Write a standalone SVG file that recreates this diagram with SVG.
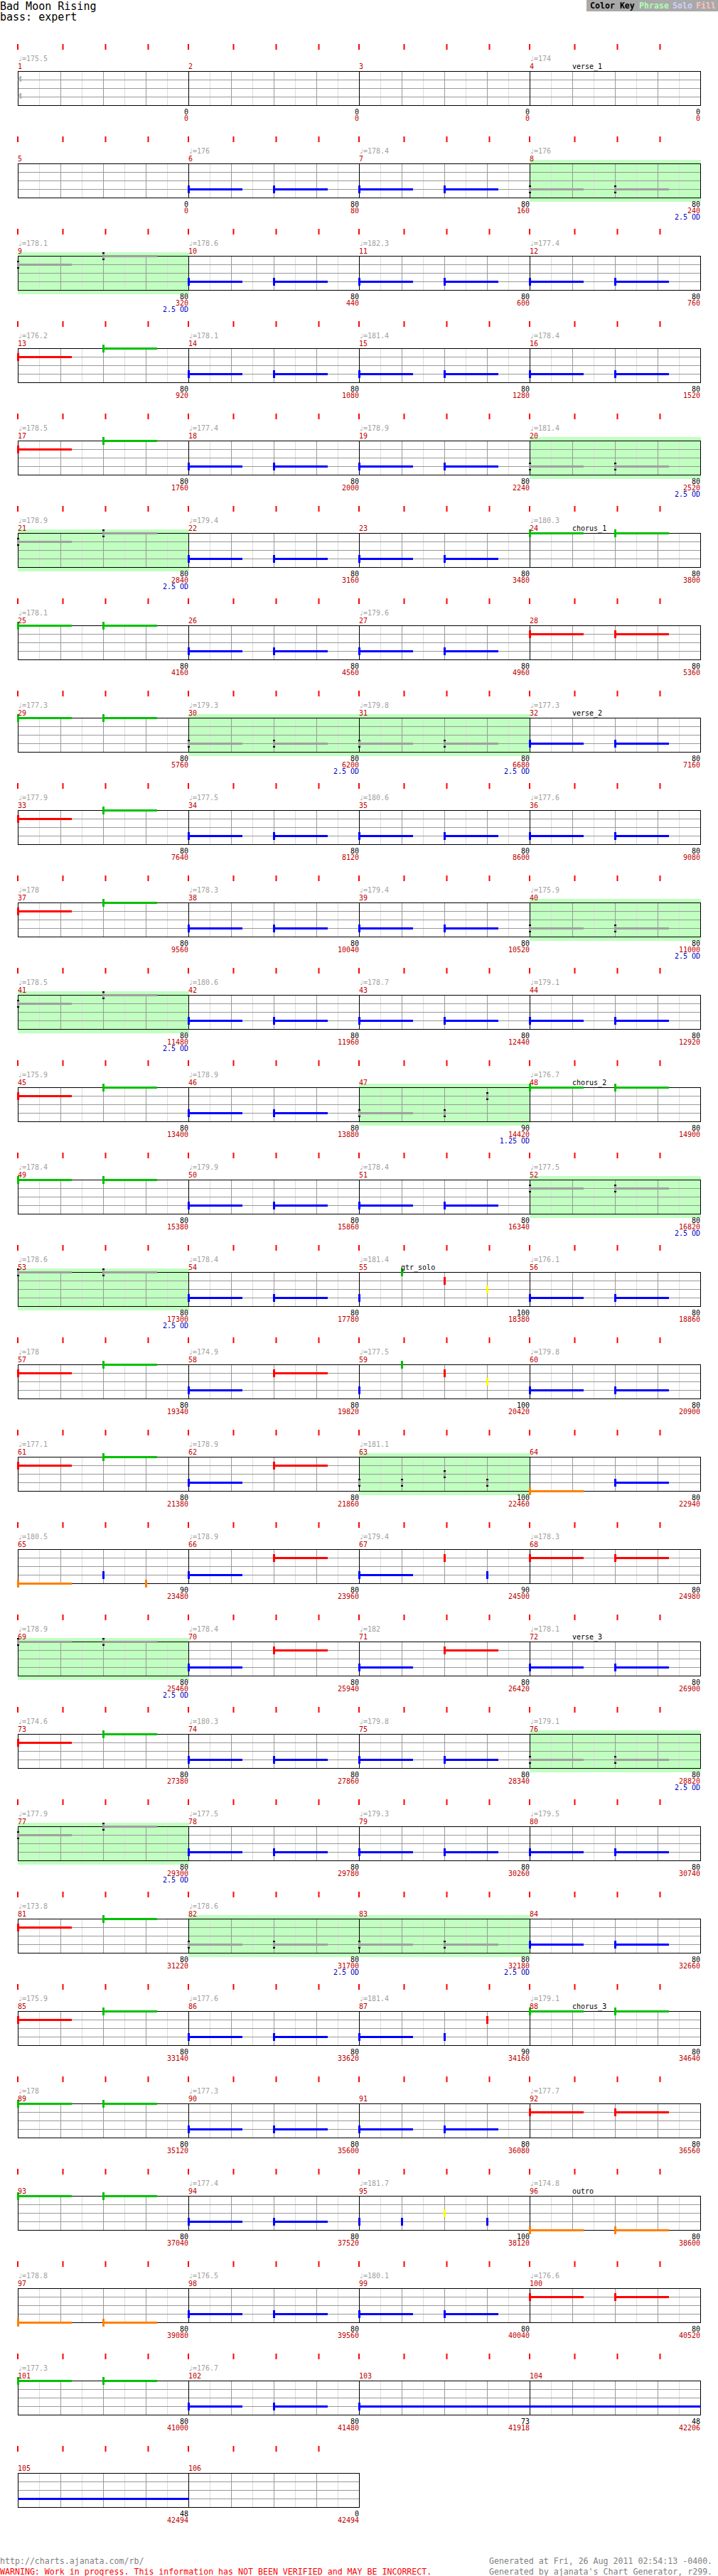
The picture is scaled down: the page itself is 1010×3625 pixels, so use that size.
<svg xmlns="http://www.w3.org/2000/svg" width="1010" height="3625" viewBox="0 0 1010 3625">
<style>
text{font-family:"DejaVu Sans Mono","Liberation Mono",monospace;font-size:10px}
.tp{fill:#a0a0a0}
.mn{fill:#c00000}
.k{fill:#000;text-anchor:end}
.c{fill:#c00000;text-anchor:end}
.o{fill:#0000c0;text-anchor:end}
.sec{fill:#000}
.G{fill:#00c000}.R{fill:#ff0000}.Y{fill:#ffff00}.B{fill:#0000ff}.O{fill:#ff8000}
.ph{fill:#c0ffc0}
.big{font-size:15px}
.ft{font-size:11.6px}
</style>
<defs>
<g id="grid4" fill="none" shape-rendering="crispEdges">
<path stroke="#dddddd" d="M55.5 0V48M115.5 0V48M175.5 0V48M235.5 0V48M295.5 0V48M355.5 0V48M415.5 0V48M475.5 0V48M535.5 0V48M595.5 0V48M655.5 0V48M715.5 0V48M775.5 0V48M835.5 0V48M895.5 0V48M955.5 0V48"/>
<path stroke="#999999" d="M85.5 0V48M145.5 0V48M205.5 0V48M325.5 0V48M385.5 0V48M445.5 0V48M565.5 0V48M625.5 0V48M685.5 0V48M805.5 0V48M865.5 0V48M925.5 0V48M25 12.5H985M25 24.5H985M25 36.5H985"/>
<path stroke="#000000" d="M25.5 0.5H985.5V48.5H25.5ZM265.5 0.5V48.5M505.5 0.5V48.5M745.5 0.5V48.5"/>
</g>
<g id="grid2" fill="none" shape-rendering="crispEdges">
<path stroke="#dddddd" d="M55.5 0V48M115.5 0V48M175.5 0V48M235.5 0V48M295.5 0V48M355.5 0V48M415.5 0V48M475.5 0V48"/>
<path stroke="#999999" d="M85.5 0V48M145.5 0V48M205.5 0V48M325.5 0V48M385.5 0V48M445.5 0V48M25 12.5H505M25 24.5H505M25 36.5H505"/>
<path stroke="#000000" d="M25.5 0.5H505.5V48.5H25.5ZM265.5 0.5V48.5"/>
</g>
<path id="tk4" fill="#ff0000" d="M24-38h2v8h-2zM87.5-38h2v8h-2zM147.5-38h2v8h-2zM207.5-38h2v8h-2zM264-38h2v8h-2zM327.5-38h2v8h-2zM387.5-38h2v8h-2zM447.5-38h2v8h-2zM504-38h2v8h-2zM567.5-38h2v8h-2zM627.5-38h2v8h-2zM687.5-38h2v8h-2zM744-38h2v8h-2zM807.5-38h2v8h-2zM867.5-38h2v8h-2zM927.5-38h2v8h-2z"/>
<path id="tk2" fill="#ff0000" d="M24-38h2v8h-2zM87.5-38h2v8h-2zM147.5-38h2v8h-2zM207.5-38h2v8h-2zM264-38h2v8h-2zM327.5-38h2v8h-2zM387.5-38h2v8h-2zM447.5-38h2v8h-2z"/>
<g id="sn"><rect x="-1" y="-5" width="3" height="11"/><rect x="0" y="-1" width="76" height="3"/></g>
<rect id="hn" x="-1" y="-5" width="3" height="11"/>
<g id="gs"><rect x="-1" y="-5" width="3" height="11" fill="#000"/><rect x="-1" y="-3" width="3" height="7" fill="#a0a0a0"/><rect x="2" y="-1" width="74" height="3" fill="#a0a0a0"/></g>
<g id="gh"><rect x="-1" y="-5" width="3" height="11" fill="#000"/><rect x="-1" y="-3" width="3" height="7" fill="#a0a0a0"/></g>
</defs>
<rect width="1010" height="3625" fill="#ffffff"/>
<g id="header">
<text class="big" x="0" y="14">Bad Moon Rising</text>
<text class="big" x="0" y="29">bass: expert</text>
</g>
<g id="color-key">
<rect x="825" y="0" width="185" height="16" fill="#a9a9a9"/>
<text class="ft" font-weight="bold" y="12"><tspan x="830" fill="#000">Color Key</tspan><tspan x="899" fill="#b0ffb0">Phrase</tspan><tspan x="946" fill="#d0d0ff">Solo</tspan><tspan x="979" fill="#ffc0c0">Fill</tspan></text>
</g>

<g id="row1" transform="translate(0,100)">
<use href="#tk4"/><use href="#grid4"/>
<text x="25" y="15" font-size="16" font-weight="bold" fill="#a0a0a0">4</text>
<text x="25" y="39" font-size="16" font-weight="bold" fill="#a0a0a0">4</text>
<text class="tp" x="25" y="-14">♩=175.5</text><text class="tp" x="745" y="-14">♩=174</text>
<text class="mn" x="25" y="-3">1</text><text class="mn" x="265" y="-3">2</text><text class="mn" x="505" y="-3">3</text><text class="mn" x="745" y="-3">4</text>
<text class="sec" x="805" y="-3">verse_1</text>
<text class="k" x="265" y="61">0</text><text class="k" x="505" y="61">0</text><text class="k" x="745" y="61">0</text><text class="k" x="985" y="61">0</text>
<text class="c" x="265" y="70">0</text><text class="c" x="505" y="70">0</text><text class="c" x="745" y="70">0</text><text class="c" x="985" y="70">0</text>
</g>

<g id="row2" transform="translate(0,230)">
<use href="#tk4"/><rect class="ph" x="745" y="-5" width="241" height="59"/><use href="#grid4"/>
<use href="#sn" class="B" x="265" y="36"/><use href="#sn" class="B" x="385" y="36"/><use href="#sn" class="B" x="505" y="36"/><use href="#sn" class="B" x="625" y="36"/>
<use href="#gs" x="745" y="36"/><use href="#gs" x="865" y="36"/>
<text class="tp" x="265" y="-14">♩=176</text><text class="tp" x="505" y="-14">♩=178.4</text><text class="tp" x="745" y="-14">♩=176</text>
<text class="mn" x="25" y="-3">5</text><text class="mn" x="265" y="-3">6</text><text class="mn" x="505" y="-3">7</text><text class="mn" x="745" y="-3">8</text>
<text class="k" x="265" y="61">0</text><text class="k" x="505" y="61">80</text><text class="k" x="745" y="61">80</text><text class="k" x="985" y="61">80</text>
<text class="c" x="265" y="70">0</text><text class="c" x="505" y="70">80</text><text class="c" x="745" y="70">160</text><text class="c" x="985" y="70">240</text>
<text class="o" x="985" y="79">2.5 OD</text>
</g>

<g id="row3" transform="translate(0,360)">
<use href="#tk4"/><rect class="ph" x="25" y="-5" width="241" height="59"/><use href="#grid4"/>
<use href="#gs" x="25" y="12"/><use href="#gs" x="145" y="0"/>
<use href="#sn" class="B" x="265" y="36"/><use href="#sn" class="B" x="385" y="36"/><use href="#sn" class="B" x="505" y="36"/><use href="#sn" class="B" x="625" y="36"/><use href="#sn" class="B" x="745" y="36"/><use href="#sn" class="B" x="865" y="36"/>
<text class="tp" x="25" y="-14">♩=178.1</text><text class="tp" x="265" y="-14">♩=178.6</text><text class="tp" x="505" y="-14">♩=182.3</text><text class="tp" x="745" y="-14">♩=177.4</text>
<text class="mn" x="25" y="-3">9</text><text class="mn" x="265" y="-3">10</text><text class="mn" x="505" y="-3">11</text><text class="mn" x="745" y="-3">12</text>
<text class="k" x="265" y="61">80</text><text class="k" x="505" y="61">80</text><text class="k" x="745" y="61">80</text><text class="k" x="985" y="61">80</text>
<text class="c" x="265" y="70">320</text><text class="c" x="505" y="70">440</text><text class="c" x="745" y="70">600</text><text class="c" x="985" y="70">760</text>
<text class="o" x="265" y="79">2.5 OD</text>
</g>

<g id="row4" transform="translate(0,490)">
<use href="#tk4"/><use href="#grid4"/>
<use href="#sn" class="R" x="25" y="12"/><use href="#sn" class="G" x="145" y="0"/>
<use href="#sn" class="B" x="265" y="36"/><use href="#sn" class="B" x="385" y="36"/><use href="#sn" class="B" x="505" y="36"/><use href="#sn" class="B" x="625" y="36"/><use href="#sn" class="B" x="745" y="36"/><use href="#sn" class="B" x="865" y="36"/>
<text class="tp" x="25" y="-14">♩=176.2</text><text class="tp" x="265" y="-14">♩=178.1</text><text class="tp" x="505" y="-14">♩=181.4</text><text class="tp" x="745" y="-14">♩=178.4</text>
<text class="mn" x="25" y="-3">13</text><text class="mn" x="265" y="-3">14</text><text class="mn" x="505" y="-3">15</text><text class="mn" x="745" y="-3">16</text>
<text class="k" x="265" y="61">80</text><text class="k" x="505" y="61">80</text><text class="k" x="745" y="61">80</text><text class="k" x="985" y="61">80</text>
<text class="c" x="265" y="70">920</text><text class="c" x="505" y="70">1080</text><text class="c" x="745" y="70">1280</text><text class="c" x="985" y="70">1520</text>
</g>

<g id="row5" transform="translate(0,620)">
<use href="#tk4"/><rect class="ph" x="745" y="-5" width="241" height="59"/><use href="#grid4"/>
<use href="#sn" class="R" x="25" y="12"/><use href="#sn" class="G" x="145" y="0"/>
<use href="#sn" class="B" x="265" y="36"/><use href="#sn" class="B" x="385" y="36"/><use href="#sn" class="B" x="505" y="36"/><use href="#sn" class="B" x="625" y="36"/>
<use href="#gs" x="745" y="36"/><use href="#gs" x="865" y="36"/>
<text class="tp" x="25" y="-14">♩=178.5</text><text class="tp" x="265" y="-14">♩=177.4</text><text class="tp" x="505" y="-14">♩=178.9</text><text class="tp" x="745" y="-14">♩=181.4</text>
<text class="mn" x="25" y="-3">17</text><text class="mn" x="265" y="-3">18</text><text class="mn" x="505" y="-3">19</text><text class="mn" x="745" y="-3">20</text>
<text class="k" x="265" y="61">80</text><text class="k" x="505" y="61">80</text><text class="k" x="745" y="61">80</text><text class="k" x="985" y="61">80</text>
<text class="c" x="265" y="70">1760</text><text class="c" x="505" y="70">2000</text><text class="c" x="745" y="70">2240</text><text class="c" x="985" y="70">2520</text>
<text class="o" x="985" y="79">2.5 OD</text>
</g>

<g id="row6" transform="translate(0,750)">
<use href="#tk4"/><rect class="ph" x="25" y="-5" width="241" height="59"/><use href="#grid4"/>
<use href="#gs" x="25" y="12"/><use href="#gs" x="145" y="0"/>
<use href="#sn" class="B" x="265" y="36"/><use href="#sn" class="B" x="385" y="36"/><use href="#sn" class="B" x="505" y="36"/><use href="#sn" class="B" x="625" y="36"/>
<use href="#sn" class="G" x="745" y="0"/><use href="#sn" class="G" x="865" y="0"/>
<text class="tp" x="25" y="-14">♩=178.9</text><text class="tp" x="265" y="-14">♩=179.4</text><text class="tp" x="745" y="-14">♩=180.3</text>
<text class="mn" x="25" y="-3">21</text><text class="mn" x="265" y="-3">22</text><text class="mn" x="505" y="-3">23</text><text class="mn" x="745" y="-3">24</text>
<text class="sec" x="805" y="-3">chorus_1</text>
<text class="k" x="265" y="61">80</text><text class="k" x="505" y="61">80</text><text class="k" x="745" y="61">80</text><text class="k" x="985" y="61">80</text>
<text class="c" x="265" y="70">2840</text><text class="c" x="505" y="70">3160</text><text class="c" x="745" y="70">3480</text><text class="c" x="985" y="70">3800</text>
<text class="o" x="265" y="79">2.5 OD</text>
</g>

<g id="row7" transform="translate(0,880)">
<use href="#tk4"/><use href="#grid4"/>
<use href="#sn" class="G" x="25" y="0"/><use href="#sn" class="G" x="145" y="0"/>
<use href="#sn" class="B" x="265" y="36"/><use href="#sn" class="B" x="385" y="36"/><use href="#sn" class="B" x="505" y="36"/><use href="#sn" class="B" x="625" y="36"/>
<use href="#sn" class="R" x="745" y="12"/><use href="#sn" class="R" x="865" y="12"/>
<text class="tp" x="25" y="-14">♩=178.1</text><text class="tp" x="505" y="-14">♩=179.6</text>
<text class="mn" x="25" y="-3">25</text><text class="mn" x="265" y="-3">26</text><text class="mn" x="505" y="-3">27</text><text class="mn" x="745" y="-3">28</text>
<text class="k" x="265" y="61">80</text><text class="k" x="505" y="61">80</text><text class="k" x="745" y="61">80</text><text class="k" x="985" y="61">80</text>
<text class="c" x="265" y="70">4160</text><text class="c" x="505" y="70">4560</text><text class="c" x="745" y="70">4960</text><text class="c" x="985" y="70">5360</text>
</g>

<g id="row8" transform="translate(0,1010)">
<use href="#tk4"/><rect class="ph" x="265" y="-5" width="481" height="59"/><use href="#grid4"/>
<use href="#sn" class="G" x="25" y="0"/><use href="#sn" class="G" x="145" y="0"/>
<use href="#gs" x="265" y="36"/><use href="#gs" x="385" y="36"/><use href="#gs" x="505" y="36"/><use href="#gs" x="625" y="36"/>
<use href="#sn" class="B" x="745" y="36"/><use href="#sn" class="B" x="865" y="36"/>
<text class="tp" x="25" y="-14">♩=177.3</text><text class="tp" x="265" y="-14">♩=179.3</text><text class="tp" x="505" y="-14">♩=179.8</text><text class="tp" x="745" y="-14">♩=177.3</text>
<text class="mn" x="25" y="-3">29</text><text class="mn" x="265" y="-3">30</text><text class="mn" x="505" y="-3">31</text><text class="mn" x="745" y="-3">32</text>
<text class="sec" x="805" y="-3">verse_2</text>
<text class="k" x="265" y="61">80</text><text class="k" x="505" y="61">80</text><text class="k" x="745" y="61">80</text><text class="k" x="985" y="61">80</text>
<text class="c" x="265" y="70">5760</text><text class="c" x="505" y="70">6200</text><text class="c" x="745" y="70">6680</text><text class="c" x="985" y="70">7160</text>
<text class="o" x="505" y="79">2.5 OD</text><text class="o" x="745" y="79">2.5 OD</text>
</g>

<g id="row9" transform="translate(0,1140)">
<use href="#tk4"/><use href="#grid4"/>
<use href="#sn" class="R" x="25" y="12"/><use href="#sn" class="G" x="145" y="0"/>
<use href="#sn" class="B" x="265" y="36"/><use href="#sn" class="B" x="385" y="36"/><use href="#sn" class="B" x="505" y="36"/><use href="#sn" class="B" x="625" y="36"/><use href="#sn" class="B" x="745" y="36"/><use href="#sn" class="B" x="865" y="36"/>
<text class="tp" x="25" y="-14">♩=177.9</text><text class="tp" x="265" y="-14">♩=177.5</text><text class="tp" x="505" y="-14">♩=180.6</text><text class="tp" x="745" y="-14">♩=177.6</text>
<text class="mn" x="25" y="-3">33</text><text class="mn" x="265" y="-3">34</text><text class="mn" x="505" y="-3">35</text><text class="mn" x="745" y="-3">36</text>
<text class="k" x="265" y="61">80</text><text class="k" x="505" y="61">80</text><text class="k" x="745" y="61">80</text><text class="k" x="985" y="61">80</text>
<text class="c" x="265" y="70">7640</text><text class="c" x="505" y="70">8120</text><text class="c" x="745" y="70">8600</text><text class="c" x="985" y="70">9080</text>
</g>

<g id="row10" transform="translate(0,1270)">
<use href="#tk4"/><rect class="ph" x="745" y="-5" width="241" height="59"/><use href="#grid4"/>
<use href="#sn" class="R" x="25" y="12"/><use href="#sn" class="G" x="145" y="0"/>
<use href="#sn" class="B" x="265" y="36"/><use href="#sn" class="B" x="385" y="36"/><use href="#sn" class="B" x="505" y="36"/><use href="#sn" class="B" x="625" y="36"/>
<use href="#gs" x="745" y="36"/><use href="#gs" x="865" y="36"/>
<text class="tp" x="25" y="-14">♩=178</text><text class="tp" x="265" y="-14">♩=178.3</text><text class="tp" x="505" y="-14">♩=179.4</text><text class="tp" x="745" y="-14">♩=175.9</text>
<text class="mn" x="25" y="-3">37</text><text class="mn" x="265" y="-3">38</text><text class="mn" x="505" y="-3">39</text><text class="mn" x="745" y="-3">40</text>
<text class="k" x="265" y="61">80</text><text class="k" x="505" y="61">80</text><text class="k" x="745" y="61">80</text><text class="k" x="985" y="61">80</text>
<text class="c" x="265" y="70">9560</text><text class="c" x="505" y="70">10040</text><text class="c" x="745" y="70">10520</text><text class="c" x="985" y="70">11000</text>
<text class="o" x="985" y="79">2.5 OD</text>
</g>

<g id="row11" transform="translate(0,1400)">
<use href="#tk4"/><rect class="ph" x="25" y="-5" width="241" height="59"/><use href="#grid4"/>
<use href="#gs" x="25" y="12"/><use href="#gs" x="145" y="0"/>
<use href="#sn" class="B" x="265" y="36"/><use href="#sn" class="B" x="385" y="36"/><use href="#sn" class="B" x="505" y="36"/><use href="#sn" class="B" x="625" y="36"/><use href="#sn" class="B" x="745" y="36"/><use href="#sn" class="B" x="865" y="36"/>
<text class="tp" x="25" y="-14">♩=178.5</text><text class="tp" x="265" y="-14">♩=180.6</text><text class="tp" x="505" y="-14">♩=178.7</text><text class="tp" x="745" y="-14">♩=179.1</text>
<text class="mn" x="25" y="-3">41</text><text class="mn" x="265" y="-3">42</text><text class="mn" x="505" y="-3">43</text><text class="mn" x="745" y="-3">44</text>
<text class="k" x="265" y="61">80</text><text class="k" x="505" y="61">80</text><text class="k" x="745" y="61">80</text><text class="k" x="985" y="61">80</text>
<text class="c" x="265" y="70">11480</text><text class="c" x="505" y="70">11960</text><text class="c" x="745" y="70">12440</text><text class="c" x="985" y="70">12920</text>
<text class="o" x="265" y="79">2.5 OD</text>
</g>

<g id="row12" transform="translate(0,1530)">
<use href="#tk4"/><rect class="ph" x="505" y="-5" width="241" height="59"/><use href="#grid4"/>
<use href="#sn" class="R" x="25" y="12"/><use href="#sn" class="G" x="145" y="0"/>
<use href="#sn" class="B" x="265" y="36"/><use href="#sn" class="B" x="385" y="36"/>
<use href="#gs" x="505" y="36"/><use href="#gh" x="625" y="36"/><use href="#gh" x="685" y="12"/>
<use href="#sn" class="G" x="745" y="0"/><use href="#sn" class="G" x="865" y="0"/>
<text class="tp" x="25" y="-14">♩=175.9</text><text class="tp" x="265" y="-14">♩=178.9</text><text class="tp" x="745" y="-14">♩=176.7</text>
<text class="mn" x="25" y="-3">45</text><text class="mn" x="265" y="-3">46</text><text class="mn" x="505" y="-3">47</text><text class="mn" x="745" y="-3">48</text>
<text class="sec" x="805" y="-3">chorus_2</text>
<text class="k" x="265" y="61">80</text><text class="k" x="505" y="61">80</text><text class="k" x="745" y="61">90</text><text class="k" x="985" y="61">80</text>
<text class="c" x="265" y="70">13400</text><text class="c" x="505" y="70">13880</text><text class="c" x="745" y="70">14420</text><text class="c" x="985" y="70">14900</text>
<text class="o" x="745" y="79">1.25 OD</text>
</g>

<g id="row13" transform="translate(0,1660)">
<use href="#tk4"/><rect class="ph" x="745" y="-5" width="241" height="59"/><use href="#grid4"/>
<use href="#sn" class="G" x="25" y="0"/><use href="#sn" class="G" x="145" y="0"/>
<use href="#sn" class="B" x="265" y="36"/><use href="#sn" class="B" x="385" y="36"/><use href="#sn" class="B" x="505" y="36"/><use href="#sn" class="B" x="625" y="36"/>
<use href="#gs" x="745" y="12"/><use href="#gs" x="865" y="12"/>
<text class="tp" x="25" y="-14">♩=178.4</text><text class="tp" x="265" y="-14">♩=179.9</text><text class="tp" x="505" y="-14">♩=178.4</text><text class="tp" x="745" y="-14">♩=177.5</text>
<text class="mn" x="25" y="-3">49</text><text class="mn" x="265" y="-3">50</text><text class="mn" x="505" y="-3">51</text><text class="mn" x="745" y="-3">52</text>
<text class="k" x="265" y="61">80</text><text class="k" x="505" y="61">80</text><text class="k" x="745" y="61">80</text><text class="k" x="985" y="61">80</text>
<text class="c" x="265" y="70">15380</text><text class="c" x="505" y="70">15860</text><text class="c" x="745" y="70">16340</text><text class="c" x="985" y="70">16820</text>
<text class="o" x="985" y="79">2.5 OD</text>
</g>

<g id="row14" transform="translate(0,1790)">
<use href="#tk4"/><rect class="ph" x="25" y="-5" width="241" height="59"/><use href="#grid4"/>
<use href="#gs" x="25" y="0"/><use href="#gs" x="145" y="0"/>
<use href="#sn" class="B" x="265" y="36"/><use href="#sn" class="B" x="385" y="36"/>
<use href="#hn" class="B" x="505" y="36"/><use href="#hn" class="G" x="565" y="0"/><use href="#hn" class="R" x="625" y="12"/><use href="#hn" class="Y" x="685" y="24"/>
<use href="#sn" class="B" x="745" y="36"/><use href="#sn" class="B" x="865" y="36"/>
<text class="tp" x="25" y="-14">♩=178.6</text><text class="tp" x="265" y="-14">♩=178.4</text><text class="tp" x="505" y="-14">♩=181.4</text><text class="tp" x="745" y="-14">♩=176.1</text>
<text class="mn" x="25" y="-3">53</text><text class="mn" x="265" y="-3">54</text><text class="mn" x="505" y="-3">55</text><text class="mn" x="745" y="-3">56</text>
<text class="sec" x="564" y="-3">gtr_solo</text>
<text class="k" x="265" y="61">80</text><text class="k" x="505" y="61">80</text><text class="k" x="745" y="61">100</text><text class="k" x="985" y="61">80</text>
<text class="c" x="265" y="70">17300</text><text class="c" x="505" y="70">17780</text><text class="c" x="745" y="70">18380</text><text class="c" x="985" y="70">18860</text>
<text class="o" x="265" y="79">2.5 OD</text>
</g>

<g id="row15" transform="translate(0,1920)">
<use href="#tk4"/><use href="#grid4"/>
<use href="#sn" class="R" x="25" y="12"/><use href="#sn" class="G" x="145" y="0"/>
<use href="#sn" class="B" x="265" y="36"/><use href="#sn" class="R" x="385" y="12"/>
<use href="#hn" class="B" x="505" y="36"/><use href="#hn" class="G" x="565" y="0"/><use href="#hn" class="R" x="625" y="12"/><use href="#hn" class="Y" x="685" y="24"/>
<use href="#sn" class="B" x="745" y="36"/><use href="#sn" class="B" x="865" y="36"/>
<text class="tp" x="25" y="-14">♩=178</text><text class="tp" x="265" y="-14">♩=174.9</text><text class="tp" x="505" y="-14">♩=177.5</text><text class="tp" x="745" y="-14">♩=179.8</text>
<text class="mn" x="25" y="-3">57</text><text class="mn" x="265" y="-3">58</text><text class="mn" x="505" y="-3">59</text><text class="mn" x="745" y="-3">60</text>
<text class="k" x="265" y="61">80</text><text class="k" x="505" y="61">80</text><text class="k" x="745" y="61">100</text><text class="k" x="985" y="61">80</text>
<text class="c" x="265" y="70">19340</text><text class="c" x="505" y="70">19820</text><text class="c" x="745" y="70">20420</text><text class="c" x="985" y="70">20900</text>
</g>

<g id="row16" transform="translate(0,2050)">
<use href="#tk4"/><rect class="ph" x="505" y="-5" width="241" height="59"/><use href="#grid4"/>
<use href="#sn" class="R" x="25" y="12"/><use href="#sn" class="G" x="145" y="0"/>
<use href="#sn" class="B" x="265" y="36"/><use href="#sn" class="R" x="385" y="12"/>
<use href="#gh" x="505" y="36"/><use href="#gh" x="565" y="36"/><use href="#gh" x="625" y="24"/><use href="#gh" x="685" y="36"/>
<use href="#sn" class="O" x="745" y="48"/><use href="#sn" class="B" x="865" y="36"/>
<text class="tp" x="25" y="-14">♩=177.1</text><text class="tp" x="265" y="-14">♩=178.9</text><text class="tp" x="505" y="-14">♩=181.1</text>
<text class="mn" x="25" y="-3">61</text><text class="mn" x="265" y="-3">62</text><text class="mn" x="505" y="-3">63</text><text class="mn" x="745" y="-3">64</text>
<text class="k" x="265" y="61">80</text><text class="k" x="505" y="61">80</text><text class="k" x="745" y="61">100</text><text class="k" x="985" y="61">80</text>
<text class="c" x="265" y="70">21380</text><text class="c" x="505" y="70">21860</text><text class="c" x="745" y="70">22460</text><text class="c" x="985" y="70">22940</text>
</g>

<g id="row17" transform="translate(0,2180)">
<use href="#tk4"/><use href="#grid4"/>
<use href="#sn" class="O" x="25" y="48"/><use href="#hn" class="B" x="145" y="36"/><use href="#hn" class="O" x="205" y="48"/>
<use href="#sn" class="B" x="265" y="36"/><use href="#sn" class="R" x="385" y="12"/>
<use href="#sn" class="B" x="505" y="36"/><use href="#hn" class="R" x="625" y="12"/><use href="#hn" class="B" x="685" y="36"/>
<use href="#sn" class="R" x="745" y="12"/><use href="#sn" class="R" x="865" y="12"/>
<text class="tp" x="25" y="-14">♩=180.5</text><text class="tp" x="265" y="-14">♩=178.9</text><text class="tp" x="505" y="-14">♩=179.4</text><text class="tp" x="745" y="-14">♩=178.3</text>
<text class="mn" x="25" y="-3">65</text><text class="mn" x="265" y="-3">66</text><text class="mn" x="505" y="-3">67</text><text class="mn" x="745" y="-3">68</text>
<text class="k" x="265" y="61">90</text><text class="k" x="505" y="61">80</text><text class="k" x="745" y="61">90</text><text class="k" x="985" y="61">80</text>
<text class="c" x="265" y="70">23480</text><text class="c" x="505" y="70">23960</text><text class="c" x="745" y="70">24500</text><text class="c" x="985" y="70">24980</text>
</g>

<g id="row18" transform="translate(0,2310)">
<use href="#tk4"/><rect class="ph" x="25" y="-5" width="241" height="59"/><use href="#grid4"/>
<use href="#gs" x="25" y="0"/><use href="#gs" x="145" y="0"/>
<use href="#sn" class="B" x="265" y="36"/><use href="#sn" class="R" x="385" y="12"/>
<use href="#sn" class="B" x="505" y="36"/><use href="#sn" class="R" x="625" y="12"/>
<use href="#sn" class="B" x="745" y="36"/><use href="#sn" class="B" x="865" y="36"/>
<text class="tp" x="25" y="-14">♩=178.9</text><text class="tp" x="265" y="-14">♩=178.4</text><text class="tp" x="505" y="-14">♩=182</text><text class="tp" x="745" y="-14">♩=178.1</text>
<text class="mn" x="25" y="-3">69</text><text class="mn" x="265" y="-3">70</text><text class="mn" x="505" y="-3">71</text><text class="mn" x="745" y="-3">72</text>
<text class="sec" x="805" y="-3">verse_3</text>
<text class="k" x="265" y="61">80</text><text class="k" x="505" y="61">80</text><text class="k" x="745" y="61">80</text><text class="k" x="985" y="61">80</text>
<text class="c" x="265" y="70">25460</text><text class="c" x="505" y="70">25940</text><text class="c" x="745" y="70">26420</text><text class="c" x="985" y="70">26900</text>
<text class="o" x="265" y="79">2.5 OD</text>
</g>

<g id="row19" transform="translate(0,2440)">
<use href="#tk4"/><rect class="ph" x="745" y="-5" width="241" height="59"/><use href="#grid4"/>
<use href="#sn" class="R" x="25" y="12"/><use href="#sn" class="G" x="145" y="0"/>
<use href="#sn" class="B" x="265" y="36"/><use href="#sn" class="B" x="385" y="36"/><use href="#sn" class="B" x="505" y="36"/><use href="#sn" class="B" x="625" y="36"/>
<use href="#gs" x="745" y="36"/><use href="#gs" x="865" y="36"/>
<text class="tp" x="25" y="-14">♩=174.6</text><text class="tp" x="265" y="-14">♩=180.3</text><text class="tp" x="505" y="-14">♩=179.8</text><text class="tp" x="745" y="-14">♩=179.1</text>
<text class="mn" x="25" y="-3">73</text><text class="mn" x="265" y="-3">74</text><text class="mn" x="505" y="-3">75</text><text class="mn" x="745" y="-3">76</text>
<text class="k" x="265" y="61">80</text><text class="k" x="505" y="61">80</text><text class="k" x="745" y="61">80</text><text class="k" x="985" y="61">80</text>
<text class="c" x="265" y="70">27380</text><text class="c" x="505" y="70">27860</text><text class="c" x="745" y="70">28340</text><text class="c" x="985" y="70">28820</text>
<text class="o" x="985" y="79">2.5 OD</text>
</g>

<g id="row20" transform="translate(0,2570)">
<use href="#tk4"/><rect class="ph" x="25" y="-5" width="241" height="59"/><use href="#grid4"/>
<use href="#gs" x="25" y="12"/><use href="#gs" x="145" y="0"/>
<use href="#sn" class="B" x="265" y="36"/><use href="#sn" class="B" x="385" y="36"/><use href="#sn" class="B" x="505" y="36"/><use href="#sn" class="B" x="625" y="36"/><use href="#sn" class="B" x="745" y="36"/><use href="#sn" class="B" x="865" y="36"/>
<text class="tp" x="25" y="-14">♩=177.9</text><text class="tp" x="265" y="-14">♩=177.5</text><text class="tp" x="505" y="-14">♩=179.3</text><text class="tp" x="745" y="-14">♩=179.5</text>
<text class="mn" x="25" y="-3">77</text><text class="mn" x="265" y="-3">78</text><text class="mn" x="505" y="-3">79</text><text class="mn" x="745" y="-3">80</text>
<text class="k" x="265" y="61">80</text><text class="k" x="505" y="61">80</text><text class="k" x="745" y="61">80</text><text class="k" x="985" y="61">80</text>
<text class="c" x="265" y="70">29300</text><text class="c" x="505" y="70">29780</text><text class="c" x="745" y="70">30260</text><text class="c" x="985" y="70">30740</text>
<text class="o" x="265" y="79">2.5 OD</text>
</g>

<g id="row21" transform="translate(0,2700)">
<use href="#tk4"/><rect class="ph" x="265" y="-5" width="481" height="59"/><use href="#grid4"/>
<use href="#sn" class="R" x="25" y="12"/><use href="#sn" class="G" x="145" y="0"/>
<use href="#gs" x="265" y="36"/><use href="#gs" x="385" y="36"/><use href="#gs" x="505" y="36"/><use href="#gs" x="625" y="36"/>
<use href="#sn" class="B" x="745" y="36"/><use href="#sn" class="B" x="865" y="36"/>
<text class="tp" x="25" y="-14">♩=173.8</text><text class="tp" x="265" y="-14">♩=178.6</text>
<text class="mn" x="25" y="-3">81</text><text class="mn" x="265" y="-3">82</text><text class="mn" x="505" y="-3">83</text><text class="mn" x="745" y="-3">84</text>
<text class="k" x="265" y="61">80</text><text class="k" x="505" y="61">80</text><text class="k" x="745" y="61">80</text><text class="k" x="985" y="61">80</text>
<text class="c" x="265" y="70">31220</text><text class="c" x="505" y="70">31700</text><text class="c" x="745" y="70">32180</text><text class="c" x="985" y="70">32660</text>
<text class="o" x="505" y="79">2.5 OD</text><text class="o" x="745" y="79">2.5 OD</text>
</g>

<g id="row22" transform="translate(0,2830)">
<use href="#tk4"/><use href="#grid4"/>
<use href="#sn" class="R" x="25" y="12"/><use href="#sn" class="G" x="145" y="0"/>
<use href="#sn" class="B" x="265" y="36"/><use href="#sn" class="B" x="385" y="36"/>
<use href="#sn" class="B" x="505" y="36"/><use href="#hn" class="B" x="625" y="36"/><use href="#hn" class="R" x="685" y="12"/>
<use href="#sn" class="G" x="745" y="0"/><use href="#sn" class="G" x="865" y="0"/>
<text class="tp" x="25" y="-14">♩=175.9</text><text class="tp" x="265" y="-14">♩=177.6</text><text class="tp" x="505" y="-14">♩=181.4</text><text class="tp" x="745" y="-14">♩=179.1</text>
<text class="mn" x="25" y="-3">85</text><text class="mn" x="265" y="-3">86</text><text class="mn" x="505" y="-3">87</text><text class="mn" x="745" y="-3">88</text>
<text class="sec" x="805" y="-3">chorus_3</text>
<text class="k" x="265" y="61">80</text><text class="k" x="505" y="61">80</text><text class="k" x="745" y="61">90</text><text class="k" x="985" y="61">80</text>
<text class="c" x="265" y="70">33140</text><text class="c" x="505" y="70">33620</text><text class="c" x="745" y="70">34160</text><text class="c" x="985" y="70">34640</text>
</g>

<g id="row23" transform="translate(0,2960)">
<use href="#tk4"/><use href="#grid4"/>
<use href="#sn" class="G" x="25" y="0"/><use href="#sn" class="G" x="145" y="0"/>
<use href="#sn" class="B" x="265" y="36"/><use href="#sn" class="B" x="385" y="36"/><use href="#sn" class="B" x="505" y="36"/><use href="#sn" class="B" x="625" y="36"/>
<use href="#sn" class="R" x="745" y="12"/><use href="#sn" class="R" x="865" y="12"/>
<text class="tp" x="25" y="-14">♩=178</text><text class="tp" x="265" y="-14">♩=177.3</text><text class="tp" x="745" y="-14">♩=177.7</text>
<text class="mn" x="25" y="-3">89</text><text class="mn" x="265" y="-3">90</text><text class="mn" x="505" y="-3">91</text><text class="mn" x="745" y="-3">92</text>
<text class="k" x="265" y="61">80</text><text class="k" x="505" y="61">80</text><text class="k" x="745" y="61">80</text><text class="k" x="985" y="61">80</text>
<text class="c" x="265" y="70">35120</text><text class="c" x="505" y="70">35600</text><text class="c" x="745" y="70">36080</text><text class="c" x="985" y="70">36560</text>
</g>

<g id="row24" transform="translate(0,3090)">
<use href="#tk4"/><use href="#grid4"/>
<use href="#sn" class="G" x="25" y="0"/><use href="#sn" class="G" x="145" y="0"/>
<use href="#sn" class="B" x="265" y="36"/><use href="#sn" class="B" x="385" y="36"/>
<use href="#hn" class="B" x="505" y="36"/><use href="#hn" class="B" x="565" y="36"/><use href="#hn" class="Y" x="625" y="24"/><use href="#hn" class="B" x="685" y="36"/>
<use href="#sn" class="O" x="745" y="48"/><use href="#sn" class="O" x="865" y="48"/>
<text class="tp" x="265" y="-14">♩=177.4</text><text class="tp" x="505" y="-14">♩=181.7</text><text class="tp" x="745" y="-14">♩=174.8</text>
<text class="mn" x="25" y="-3">93</text><text class="mn" x="265" y="-3">94</text><text class="mn" x="505" y="-3">95</text><text class="mn" x="745" y="-3">96</text>
<text class="sec" x="805" y="-3">outro</text>
<text class="k" x="265" y="61">80</text><text class="k" x="505" y="61">80</text><text class="k" x="745" y="61">100</text><text class="k" x="985" y="61">80</text>
<text class="c" x="265" y="70">37040</text><text class="c" x="505" y="70">37520</text><text class="c" x="745" y="70">38120</text><text class="c" x="985" y="70">38600</text>
</g>

<g id="row25" transform="translate(0,3220)">
<use href="#tk4"/><use href="#grid4"/>
<use href="#sn" class="O" x="25" y="48"/><use href="#sn" class="O" x="145" y="48"/>
<use href="#sn" class="B" x="265" y="36"/><use href="#sn" class="B" x="385" y="36"/><use href="#sn" class="B" x="505" y="36"/><use href="#sn" class="B" x="625" y="36"/>
<use href="#sn" class="R" x="745" y="12"/><use href="#sn" class="R" x="865" y="12"/>
<text class="tp" x="25" y="-14">♩=178.8</text><text class="tp" x="265" y="-14">♩=176.5</text><text class="tp" x="505" y="-14">♩=180.1</text><text class="tp" x="745" y="-14">♩=176.6</text>
<text class="mn" x="25" y="-3">97</text><text class="mn" x="265" y="-3">98</text><text class="mn" x="505" y="-3">99</text><text class="mn" x="745" y="-3">100</text>
<text class="k" x="265" y="61">80</text><text class="k" x="505" y="61">80</text><text class="k" x="745" y="61">80</text><text class="k" x="985" y="61">80</text>
<text class="c" x="265" y="70">39080</text><text class="c" x="505" y="70">39560</text><text class="c" x="745" y="70">40040</text><text class="c" x="985" y="70">40520</text>
</g>

<g id="row26" transform="translate(0,3350)">
<use href="#tk4"/><use href="#grid4"/>
<use href="#sn" class="G" x="25" y="0"/><use href="#sn" class="G" x="145" y="0"/>
<use href="#sn" class="B" x="265" y="36"/><use href="#sn" class="B" x="385" y="36"/>
<use href="#hn" class="B" x="505" y="36"/><rect class="B" x="505" y="35" width="481" height="3"/>
<text class="tp" x="25" y="-14">♩=177.3</text><text class="tp" x="265" y="-14">♩=176.7</text>
<text class="mn" x="25" y="-3">101</text><text class="mn" x="265" y="-3">102</text><text class="mn" x="505" y="-3">103</text><text class="mn" x="745" y="-3">104</text>
<text class="k" x="265" y="61">80</text><text class="k" x="505" y="61">80</text><text class="k" x="745" y="61">73</text><text class="k" x="985" y="61">48</text>
<text class="c" x="265" y="70">41000</text><text class="c" x="505" y="70">41480</text><text class="c" x="745" y="70">41918</text><text class="c" x="985" y="70">42206</text>
</g>

<g id="row27" transform="translate(0,3480)">
<use href="#tk2"/><use href="#grid2"/>
<rect class="B" x="25" y="35" width="241" height="3"/>
<text class="mn" x="25" y="-3">105</text><text class="mn" x="265" y="-3">106</text>
<text class="k" x="265" y="61">48</text><text class="k" x="505" y="61">0</text>
<text class="c" x="265" y="70">42494</text><text class="c" x="505" y="70">42494</text>
</g>

<g id="footer">
<text class="ft" x="0" y="3608" fill="#808080">http://charts.ajanata.com/rb/</text>
<text class="ft" x="0" y="3623" fill="#ff0000">WARNING: Work in progress. This information has NOT BEEN VERIFIED and MAY BE INCORRECT.</text>
<text class="ft" x="688" y="3608" fill="#808080">Generated at Fri, 26 Aug 2011 02:54:13 -0400.</text>
<text class="ft" x="688" y="3623" fill="#808080">Generated by ajanata's Chart Generator, r299.</text>
</g>
</svg>
